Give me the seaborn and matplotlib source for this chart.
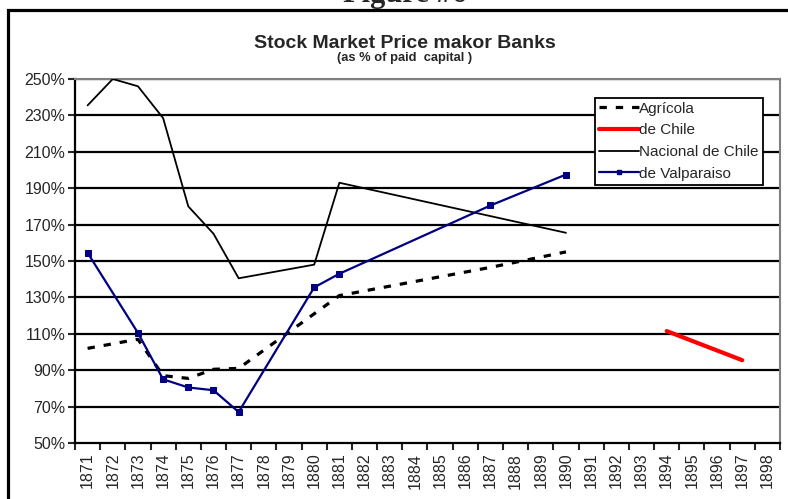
import matplotlib
matplotlib.use("Agg")
import matplotlib.pyplot as plt
import matplotlib.patches as mpatches
from matplotlib.lines import Line2D
import seaborn as sns
import pandas as pd
import numpy as np

# years on the category axis
years = list(range(1871, 1899))

# values (% of paid capital)
agricola_years = [1871, 1873, 1874, 1875, 1876, 1877, 1881, 1887, 1890]
agricola = [102, 107, 87, 85.5, 90.5, 91, 131, 146.5, 155]

dechile_years = [1894, 1897]
dechile = [111.5, 95.5]

nacional_years = [1871, 1872, 1873, 1874, 1875, 1876, 1877, 1880, 1881, 1890]
nacional = [235.5, 250, 246, 228.5, 180, 165, 140.5, 148, 193, 165.5]

valparaiso_years = [1871, 1873, 1874, 1875, 1876, 1877, 1880, 1881, 1887, 1890]
valparaiso = [154.5, 110.5, 85, 80.5, 79, 67, 135.5, 143, 180.5, 197.5]

sns.set_style("white")
plt.rcParams['font.family'] = ['Liberation Sans', 'DejaVu Sans']

W, H = 788, 499
fig = plt.figure(figsize=(W / 100, H / 100), dpi=100)
ax = fig.add_axes([75 / W, 1 - 443 / H, (780 - 75) / W, (443 - 79) / H])

df_agr = pd.DataFrame({"year": agricola_years, "value": agricola})
df_chi = pd.DataFrame({"year": dechile_years, "value": dechile})
df_nac = pd.DataFrame({"year": nacional_years, "value": nacional})
df_val = pd.DataFrame({"year": valparaiso_years, "value": valparaiso})

# gridlines
for v in range(70, 251, 20):
    ax.axhline(v, color="black", lw=1.6, zorder=1)

sns.lineplot(data=df_nac, x="year", y="value", ax=ax, color="black", lw=1.3, zorder=3)
sns.lineplot(data=df_agr, x="year", y="value", ax=ax, color="black", lw=2.3,
             zorder=3).lines[-1].set_dashes((2.3, 2.8))
sns.lineplot(data=df_chi, x="year", y="value", ax=ax, color="#ff0000", lw=3, zorder=3)
sns.lineplot(data=df_val, x="year", y="value", ax=ax, color="#000080", lw=1.6,
             marker="s", markersize=5, markeredgecolor="#000080", zorder=4)

ax.set_xlim(1870.5, 1898.5)
ax.set_ylim(50, 250)
ax.set_yticks(range(50, 251, 20))
ax.set_yticklabels([f"{v}%" for v in range(50, 251, 20)], fontsize=11.5)
ax.set_xticks(years)
ax.set_xticklabels([str(y) for y in years], rotation=90, fontsize=11.5)
ax.set_xticks(np.arange(1870.5, 1899, 1), minor=True)
ax.tick_params(axis="x", which="major", length=0, pad=7)
ax.tick_params(axis="x", which="minor", length=5, width=1.5, direction="out", bottom=True)
ax.tick_params(axis="y", length=5, width=1.5, direction="out", left=True, pad=2)
ax.set_xlabel("")
ax.set_ylabel("")

ax.spines["left"].set_color("black")
ax.spines["left"].set_linewidth(1.6)
ax.spines["bottom"].set_color("black")
ax.spines["bottom"].set_linewidth(1.6)
ax.spines["top"].set_color("#808080")
ax.spines["right"].set_color("#808080")
ax.spines["top"].set_linewidth(1.5)
ax.spines["right"].set_linewidth(1.5)

handles = [
    Line2D([], [], color="black", lw=2.3, dashes=(2.3, 2.8)),
    Line2D([], [], color="#ff0000", lw=3),
    Line2D([], [], color="black", lw=1.3),
    Line2D([], [], color="#000080", lw=1.6, marker="s", markersize=3),
]
labels = ["Agrícola", "de Chile", "Nacional de Chile", "de Valparaiso"]
leg = ax.legend(handles, labels, loc="upper left", bbox_to_anchor=(595 / W, 1 - 98 / H),
                bbox_transform=fig.transFigure, fontsize=11, frameon=True, fancybox=False,
                framealpha=1, edgecolor="black", handlelength=2.6, handletextpad=0.05,
                labelspacing=0.5, borderpad=0.25, borderaxespad=0)
leg.get_frame().set_linewidth(1.3)
leg.set_zorder(10)

fig.text(405 / W, 1 - 43 / H, "Stock Market Price makor Banks", ha="center", va="center",
         fontsize=14, fontweight="bold")
fig.text(405 / W, 1 - 58 / H, "(as % of paid  capital )", ha="center", va="center",
         fontsize=9.3, fontweight="bold")
fig.text(405 / W, 1 - 2 / H, "Figure #6", ha="center", va="baseline", fontsize=22,
         fontweight="bold", family=["Liberation Serif", "DejaVu Serif"])

fig.patches.append(mpatches.Rectangle((7.5 / W, -0.1), 1.2, 1 - 10 / H + 0.1,
                                      transform=fig.transFigure, fill=False,
                                      lw=2.3, edgecolor="black"))

fig.savefig("out.png", dpi=100)
